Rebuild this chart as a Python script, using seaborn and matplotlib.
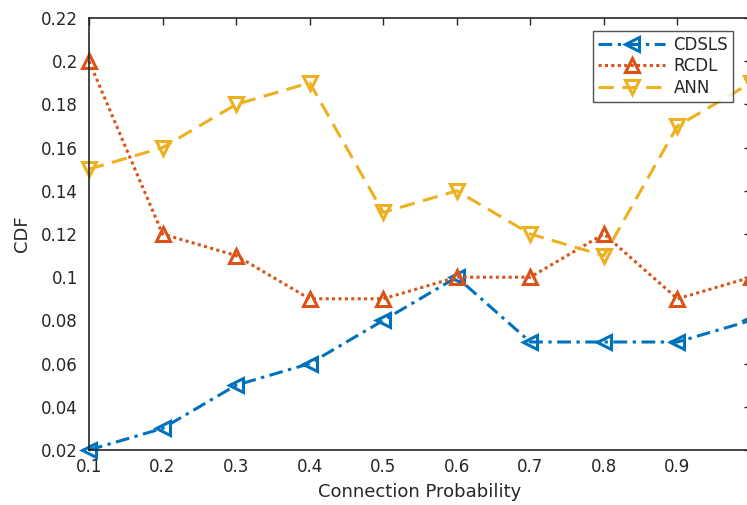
import matplotlib
matplotlib.use("Agg")
import matplotlib.pyplot as plt
import seaborn as sns
import pandas as pd

x = [0.1, 0.2, 0.3, 0.4, 0.5, 0.6, 0.7, 0.8, 0.9, 1.0]
cdsls = [0.02, 0.03, 0.05, 0.06, 0.08, 0.10, 0.07, 0.07, 0.07, 0.08]
rcdl = [0.20, 0.12, 0.11, 0.09, 0.09, 0.10, 0.10, 0.12, 0.09, 0.10]
ann = [0.15, 0.16, 0.18, 0.19, 0.13, 0.14, 0.12, 0.11, 0.17, 0.19]
series_names = ["CDSLS", "RCDL", "ANN"]
xticks = [0.1, 0.2, 0.3, 0.4, 0.5, 0.6, 0.7, 0.8, 0.9, 1.0]
xticklabels = ["0.1", "0.2", "0.3", "0.4", "0.5", "0.6", "0.7", "0.8", "0.9", "1"]
yticks = [0.02, 0.04, 0.06, 0.08, 0.10, 0.12, 0.14, 0.16, 0.18, 0.20, 0.22]
yticklabels = ["0.02", "0.04", "0.06", "0.08", "0.1", "0.12", "0.14", "0.16", "0.18", "0.2", "0.22"]

sns.set_style("white")
plt.rcParams['font.family'] = ['DejaVu Sans']

fig = plt.figure(figsize=(7.47, 5.05), dpi=100)
ax = fig.add_axes([89/747, 1-450/505, (751-89)/747, (450-18)/505])

styles = {
    "CDSLS": dict(color="#0072BD", marker="<", dashes=(4.5, 1.8, 1.1, 1.8)),
    "RCDL": dict(color="#D95319", marker="^", dashes=(1.0, 1.1)),
    "ANN": dict(color="#EDB120", marker="v", dashes=(5, 2.8)),
}
data = {"CDSLS": cdsls, "RCDL": rcdl, "ANN": ann}
for name in series_names:
    st = styles[name]
    df = pd.DataFrame({"x": x, "y": data[name]})
    sns.lineplot(data=df, x="x", y="y", ax=ax, color=st["color"], marker=st["marker"],
                 markersize=10.5, markerfacecolor="none", markeredgecolor=st["color"],
                 markeredgewidth=2.2, linewidth=2.2, dashes=st["dashes"], label=name,
                 clip_on=False)

ax.set_xlim(0.1, 1.0)
ax.set_ylim(0.02, 0.22)
ax.set_xticks(xticks)
ax.set_xticklabels(xticklabels)
ax.set_yticks(yticks)
ax.set_yticklabels(yticklabels)
ax.tick_params(direction="in", length=5, width=1, top=True, right=True,
               labelsize=12, colors="#262626")
ax.tick_params(axis="x", pad=6)
ax.tick_params(axis="y", pad=8)
for s in ax.spines.values():
    s.set_color("#262626")
    s.set_linewidth(1.2)
ax.set_xlabel("Connection Probability", fontsize=13, color="#262626", labelpad=5)
ax.set_ylabel("CDF", fontsize=13, color="#262626", labelpad=7)
leg = ax.legend(loc="upper right", borderaxespad=0,
                fontsize=12, frameon=True, fancybox=False, edgecolor="#262626",
                handlelength=4.0, borderpad=0.3, labelspacing=0.2, handletextpad=0.5)
leg.get_frame().set_linewidth(1)
leg.set_bbox_to_anchor(((733-89)/662, (450-31)/432), transform=ax.transAxes)

fig.savefig("out.png", dpi=100)
